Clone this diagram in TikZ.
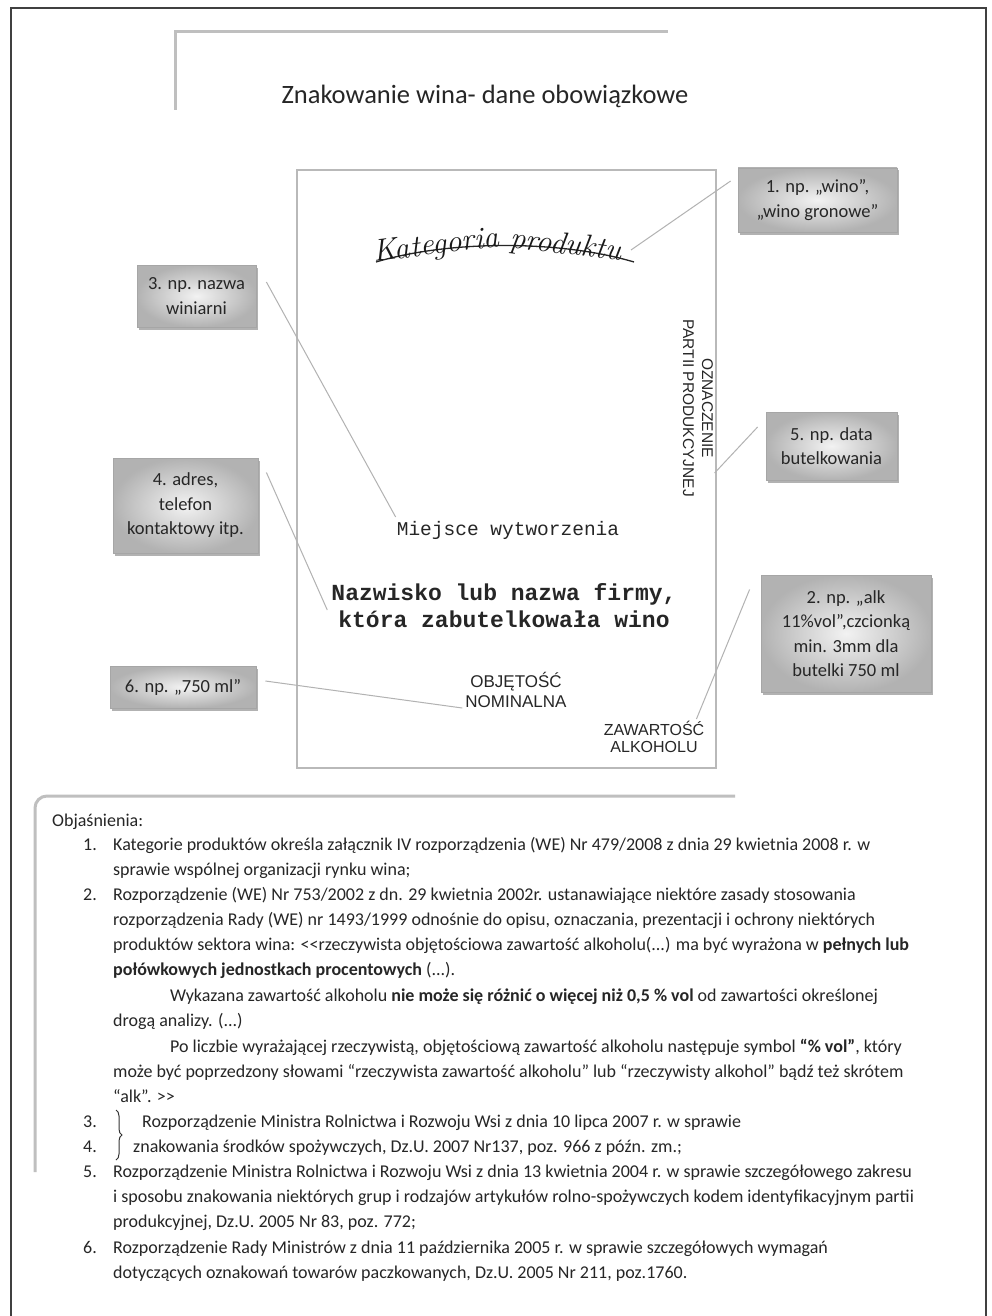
\documentclass[tikz,border=0pt]{standalone}
\usepackage{fontspec}
\newfontfamily\calib{Carlito}
\newfontfamily\labsans{Liberation Sans}
\newfontfamily\labmono{Liberation Mono}
\usetikzlibrary{shadows,decorations.pathreplacing,calc}
\begin{document}
\begin{tikzpicture}[x=1pt,y=-1pt,
  callout/.style={draw=gray!70, line width=0.8pt, inner color=gray!10, outer color=gray!60,
    drop shadow={shadow xshift=1.5pt,shadow yshift=-2.5pt,fill=gray!75,opacity=0.8},
    align=center, font=\calib\fontsize{18.5}{24.5}\selectfont, text=black!85, inner sep=2pt},
  conn/.style={draw=gray!60, line width=1pt},
  frameline/.style={draw=gray!50, line width=3pt},
  lab/.style={inner sep=0pt, text=black!85},
  script/.style={inner sep=0pt, anchor=base, text=black!90, font=\fontsize{31}{31}\selectfont\itshape},
  body/.style={anchor=base west, font=\calib\fontsize{18}{20}\selectfont, inner sep=0pt, text=black!85},
]
\useasboundingbox (0,0) rectangle (992,1316);
\fill[white] (0,0) rectangle (992,1316);
% outer frame
\draw[black!75, line width=1.2pt] (11,1330) -- (11,8) -- (986,8) -- (986,1330);
% title bracket
\draw[frameline] (175,110) -- (175,32) -- (668,32);
\node[lab, font=\calib\fontsize{26.5}{30}\selectfont] (title) at (485,96) {Znakowanie wina- dane obowiązkowe};
% label card
\node[draw=gray!55, line width=1.2pt, minimum width=419pt, minimum height=598pt, inner sep=0pt] (card) at (506.5,469) {};
% Kategoria produktu
\draw[line width=1.3pt, black!85] (376,262) .. controls (450,240) and (560,240) .. (634,262);
\node[script, rotate=7] (kat1) at (437,254) {Kategoria};
\node[script, rotate=-7] (kat2) at (565,254) {produktu};
\coordinate (katend) at (631,250);
% card texts
\node[lab, rotate=-90, align=center, font=\labsans\fontsize{15.5}{19}\selectfont] (ozn) at (698,408) {OZNACZENIE\\PARTII PRODUKCYJNEJ};
\node[lab, font=\labmono\fontsize{19.5}{22}\selectfont] (miejsce) at (508,530) {Miejsce wytworzenia};
\node[lab, align=center, font=\labmono\bfseries\fontsize{23}{27}\selectfont] (nazw) at (504,606) {Nazwisko lub nazwa firmy,\\która zabutelkowała wino};
\node[lab, align=center, font=\labsans\fontsize{17}{20}\selectfont] (obj) at (516,690) {OBJĘTOŚĆ\\NOMINALNA};
\node[lab, align=center, font=\labsans\fontsize{16}{17}\selectfont] (zaw) at (654,737) {ZAWARTOŚĆ\\ALKOHOLU};
% callouts
\node[callout, minimum width=159pt, minimum height=64pt] (box1) at (817.5,200) {1. np. „wino”,\\„wino gronowe”};
\node[callout, minimum width=119pt, minimum height=62pt] (box3) at (196.5,296) {3. np. nazwa\\winiarni};
\node[callout, minimum width=131pt, minimum height=68pt] (box5) at (831.5,446) {5. np. data\\butelkowania};
\node[callout, minimum width=145pt, minimum height=95pt] (box4) at (185.5,505.5) {4. adres,\\telefon\\kontaktowy itp.};
\node[callout, minimum width=170pt, minimum height=117pt] (box2) at (846,633.5) {2. np. „alk\\11\%vol”,czcionką\\min. 3mm dla\\butelki 750 ml};
\node[callout, minimum width=146pt, minimum height=42pt] (box6) at (183,687) {6. np. „750 ml”};
% connectors
\draw[conn] ([xshift=-7pt,yshift=19pt]box1.west) -- (katend);
\draw[conn] ([xshift=10pt,yshift=14pt]box3.east) -- ([xshift=-1pt,yshift=13pt]miejsce.west);
\draw[conn] ([xshift=8pt,yshift=33pt]box4.east) -- ([xshift=-4pt,yshift=-4pt]nazw.west);
\draw[conn] ([xshift=-8pt,yshift=19pt]box5.west) -- ([xshift=-2pt,yshift=-4pt]card.east);
\draw[conn] ([xshift=-11pt,yshift=44pt]box2.west) -- ([xshift=-8pt,yshift=2pt]zaw.north east);
\draw[conn] ([xshift=9pt,yshift=6pt]box6.east) -- ([xshift=-3pt,yshift=-18pt]obj.west);
% explanation bracket
\draw[frameline, rounded corners=12pt] (35,1172) -- (35,796) -- (735,796);
\node[body] (head) at (52,826) {Objaśnienia:};
\node[body] (n1) at (83,850) {1.};
\node[body] (a1) at (113,850) {Kategorie produktów określa załącznik IV rozporządzenia (WE) Nr 479/2008 z dnia 29 kwietnia 2008 r. w};
\node[body] (a2) at (113,875) {sprawie wspólnej organizacji rynku wina;};
\node[body] (n2) at (83,900) {2.};
\node[body] (a3) at (113,900) {Rozporządzenie (WE) Nr 753/2002 z dn. 29 kwietnia 2002r. ustanawiające niektóre zasady stosowania};
\node[body] (a4) at (113,925) {rozporządzenia Rady (WE) nr 1493/1999 odnośnie do opisu, oznaczania, prezentacji i ochrony niektórych};
\node[body] (a5) at (113,950) {produktów sektora wina: <{}<rzeczywista objętościowa zawartość alkoholu(...) ma być wyrażona w \textbf{pełnych lub}};
\node[body] (a6) at (113,975) {\textbf{połówkowych jednostkach procentowych} (...).};
\node[body] (a7) at (170,1001) {Wykazana zawartość alkoholu \textbf{nie może się różnić o więcej niż 0,5 \% vol} od zawartości określonej};
\node[body] (a8) at (113,1026) {drogą analizy. (...)};
\node[body] (a9) at (170,1052) {Po liczbie wyrażającej rzeczywistą, objętościową zawartość alkoholu następuje symbol \textbf{“\% vol”}, który};
\node[body] (a10) at (113,1077) {może być poprzedzony słowami “rzeczywista zawartość alkoholu” lub “rzeczywisty alkohol” bądź też skrótem};
\node[body] (a11) at (113,1102) {“alk”. >{}>};
\node[body] (n3) at (83,1127) {3.};
\node[body] (a12) at (142,1127) {Rozporządzenie Ministra Rolnictwa i Rozwoju Wsi z dnia 10 lipca 2007 r. w sprawie};
\node[body] (n4) at (83,1152) {4.};
\node[body] (a13) at (133,1152) {znakowania środków spożywczych, Dz.U. 2007 Nr137, poz. 966 z późn. zm.;};
\draw[decorate, decoration={brace, amplitude=6pt}, line width=1pt, black!80] (116,1110) -- (116,1160);
\node[body] (n5) at (83,1177) {5.};
\node[body] (a14) at (113,1177) {Rozporządzenie Ministra Rolnictwa i Rozwoju Wsi z dnia 13 kwietnia 2004 r. w sprawie szczegółowego zakresu};
\node[body] (a15) at (113,1202) {i sposobu znakowania niektórych grup i rodzajów artykułów rolno-spożywczych kodem identyfikacyjnym partii};
\node[body] (a16) at (113,1227) {produkcyjnej, Dz.U. 2005 Nr 83, poz. 772;};
\node[body] (n6) at (83,1253) {6.};
\node[body] (a17) at (113,1253) {Rozporządzenie Rady Ministrów z dnia 11 października 2005 r. w sprawie szczegółowych wymagań};
\node[body] (a18) at (113,1278) {dotyczących oznakowań towarów paczkowanych, Dz.U. 2005 Nr 211, poz.1760.};
\end{tikzpicture}
\end{document}
